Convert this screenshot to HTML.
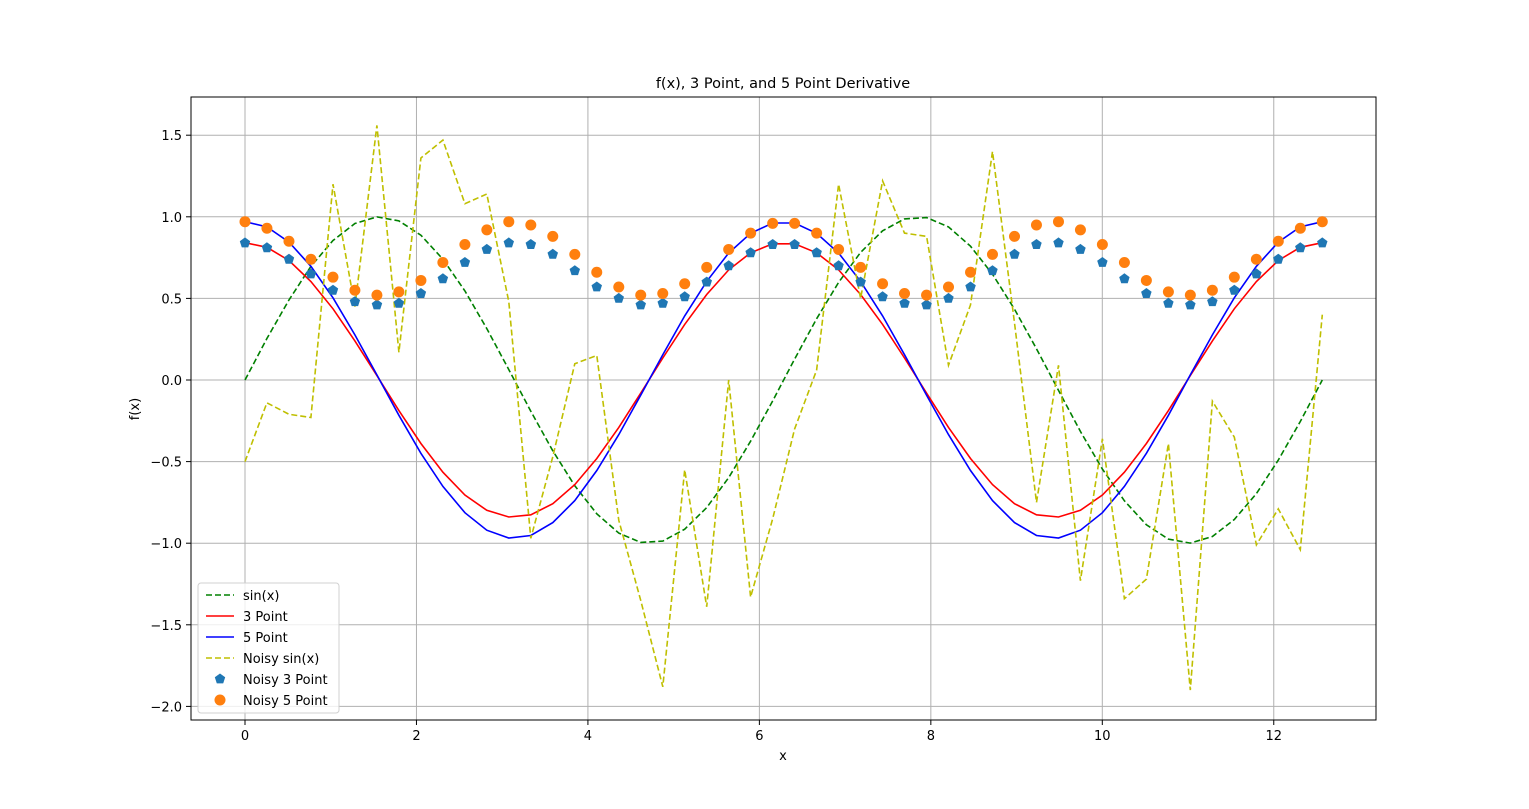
<!DOCTYPE html>
<html><head><meta charset="utf-8"><style>
body{margin:0;background:#fff}
svg{display:block;font-family:"DejaVu Sans","Liberation Sans",sans-serif}
</style></head><body>
<svg id="c" width="1529" height="809">
<rect width="1529" height="809" fill="#fff"/>
<g id="grid"></g>
<g id="plot"></g>
<rect x="191" y="97" width="1185" height="623" fill="none" stroke="#000" stroke-width="1"/>
<g id="ticks"></g>
<text x="783" y="88" text-anchor="middle" font-size="14.5">f(x), 3 Point, and 5 Point Derivative</text>
<text x="783" y="760" text-anchor="middle" font-size="13">x</text>
<text x="139" y="409" text-anchor="middle" font-size="13" transform="rotate(-90 139 409)">f(x)</text>
<g id="legend"></g>
</svg>
<script>
const xTicks=[0,2,4,6,8,10,12];
const yTicks=[1.5,1.0,0.5,0.0,-0.5,-1.0,-1.5,-2.0];
const yTickLabels=["1.5","1.0","0.5","0.0","\u22120.5","\u22121.0","\u22121.5","\u22122.0"];
const xs=[0,0.256,0.513,0.769,1.026,1.282,1.539,1.795,2.052,2.308,2.565,2.821,3.077,3.334,3.590,3.847,4.103,4.360,4.616,4.873,5.129,5.386,5.642,5.898,6.155,6.411,6.668,6.924,7.181,7.437,7.693,7.950,8.206,8.463,8.719,8.976,9.232,9.489,9.745,10.001,10.258,10.514,10.771,11.027,11.284,11.540,11.797,12.053,12.310,12.566];
const sinY=[0,.254,.491,.696,.855,.959,.9995,.975,.887,.740,.546,.315,.064,-.191,-.434,-.648,-.820,-.938,-.995,-.987,-.914,-.782,-.598,-.375,-.128,.128,.375,.598,.782,.914,.987,.995,.938,.820,.648,.434,.191,-.064,-.315,-.546,-.740,-.887,-.975,-.9995,-.959,-.855,-.696,-.491,-.254,0];
const cosY=[1,.967,.871,.718,.519,.285,.032,-.223,-.463,-.672,-.838,-.949,-.998,-.982,-.901,-.762,-.572,-.345,-.096,.160,.405,.623,.802,.927,.992,.992,.927,.802,.623,.405,.160,-.096,-.345,-.572,-.762,-.901,-.982,-.998,-.949,-.838,-.672,-.463,-.223,.032,.285,.519,.718,.871,.967,1];
const threeY=cosY.map(v=>v*0.841);
const fiveY=cosY.map(v=>v*0.970);
const noisySin=[-0.50,-0.14,-0.21,-0.23,1.20,0.45,1.56,0.17,1.36,1.47,1.08,1.14,0.48,-0.97,-0.47,0.10,0.15,-0.86,-1.35,-1.88,-0.55,-1.39,0.00,-1.33,-0.85,-0.30,0.06,1.20,0.50,1.22,0.90,0.88,0.09,0.46,1.40,0.35,-0.75,0.09,-1.23,-0.36,-1.34,-1.22,-0.39,-1.90,-0.13,-0.35,-1.01,-0.79,-1.04,0.40];
const noisy3=[0.84,0.81,0.74,0.65,0.55,0.48,0.46,0.47,0.53,0.62,0.72,0.80,0.84,0.83,0.77,0.67,0.57,0.50,0.46,0.47,0.51,0.60,0.70,0.78,0.83,0.83,0.78,0.70,0.60,0.51,0.47,0.46,0.50,0.57,0.67,0.77,0.83,0.84,0.80,0.72,0.62,0.53,0.47,0.46,0.48,0.55,0.65,0.74,0.81,0.84];
const noisy5=[0.97,0.93,0.85,0.74,0.63,0.55,0.52,0.54,0.61,0.72,0.83,0.92,0.97,0.95,0.88,0.77,0.66,0.57,0.52,0.53,0.59,0.69,0.80,0.90,0.96,0.96,0.90,0.80,0.69,0.59,0.53,0.52,0.57,0.66,0.77,0.88,0.95,0.97,0.92,0.83,0.72,0.61,0.54,0.52,0.55,0.63,0.74,0.85,0.93,0.97];
const legendLabels=["sin(x)","3 Point","5 Point","Noisy sin(x)","Noisy 3 Point","Noisy 5 Point"];

const NS="http://www.w3.org/2000/svg";
const L=191,R=1376,T=97,B=720;
const sx=x=>245+x*85.73;
const sy=y=>380-y*163.2;
function mk(tag,attrs,parent){const e=document.createElementNS(NS,tag);for(const k in attrs)e.setAttribute(k,attrs[k]);parent.appendChild(e);return e;}
const grid=document.getElementById('grid'),plot=document.getElementById('plot'),ticks=document.getElementById('ticks'),leg=document.getElementById('legend');

xTicks.forEach(t=>{
  const g=mk('line',{x1:sx(t),x2:sx(t),y1:T,y2:B,stroke:'#b0b0b0','stroke-width':1},grid);
  
  
  const tk=mk('line',{x1:sx(t),x2:sx(t),y1:B,y2:B+5,stroke:'#000'},ticks);
  
  
  const tx=mk('text',{x:sx(t),y:B+20,'text-anchor':'middle','font-size':13},ticks);
  tx.textContent=String(t);
  
  
});
yTicks.forEach((t,i)=>{
  const g=mk('line',{x1:L,x2:R,y1:sy(t),y2:sy(t),stroke:'#b0b0b0','stroke-width':1},grid);
  
  
  const tk=mk('line',{x1:L-5,x2:L,y1:sy(t),y2:sy(t),stroke:'#000'},ticks);
  
  
  const tx=mk('text',{x:L-9,y:sy(t)+5,'text-anchor':'end','font-size':13},ticks);
  tx.textContent=yTickLabels[i];
  
  
});
function line(ys,color,dash,name){
  const d=ys.map((y,i)=>(i?'L':'M')+sx(xs[i]).toFixed(1)+','+sy(y).toFixed(1)).join('');
  const p=mk('path',{d:d,fill:'none',stroke:color,'stroke-width':1.6,'stroke-dasharray':dash||'none'},plot);
  
  
}
function pent(cx,cy,r){let s='';for(let k=0;k<5;k++){const a=-Math.PI/2+k*2*Math.PI/5;s+=(cx+r*Math.cos(a)).toFixed(1)+','+(cy+r*Math.sin(a)).toFixed(1)+' ';}return s;}
line(sinY,'#008000','6,3','sin-line');
line(threeY,'#ff0000','','three-point-line');
line(fiveY,'#0000ff','','five-point-line');
line(noisySin,'#bfbf00','6,3','noisy-sin-line');
noisy3.forEach((y,i)=>{
  const p=mk('polygon',{points:pent(sx(xs[i]),sy(y),5.5),fill:'#1f77b4'},plot);
  
  
});
noisy5.forEach((y,i)=>{
  const c=mk('circle',{cx:sx(xs[i]),cy:sy(y),r:5.5,fill:'#ff7f0e'},plot);
  
  
});
// legend
const box=mk('rect',{x:198,y:583,width:141,height:130,rx:3,fill:'#fff','fill-opacity':0.8,stroke:'#d0d0d0'},leg);


const lc=['#008000','#ff0000','#0000ff','#bfbf00'],ld=['6,3','','','6,3'];
legendLabels.forEach((lab,i)=>{
  const y=595+i*21;
  let m;
  if(i<4){m=mk('line',{x1:206,x2:234,y1:y,y2:y,stroke:lc[i],'stroke-width':1.6,'stroke-dasharray':ld[i]||'none'},leg);}
  else if(i===4){m=mk('polygon',{points:pent(220,y,5.5),fill:'#1f77b4'},leg);}
  else{m=mk('circle',{cx:220,cy:y,r:5.5,fill:'#ff7f0e'},leg);}
  
  
  const t=mk('text',{x:243,y:y+5,'font-size':13},leg);
  t.textContent=lab;
  
  
});
</script>
</body></html>
